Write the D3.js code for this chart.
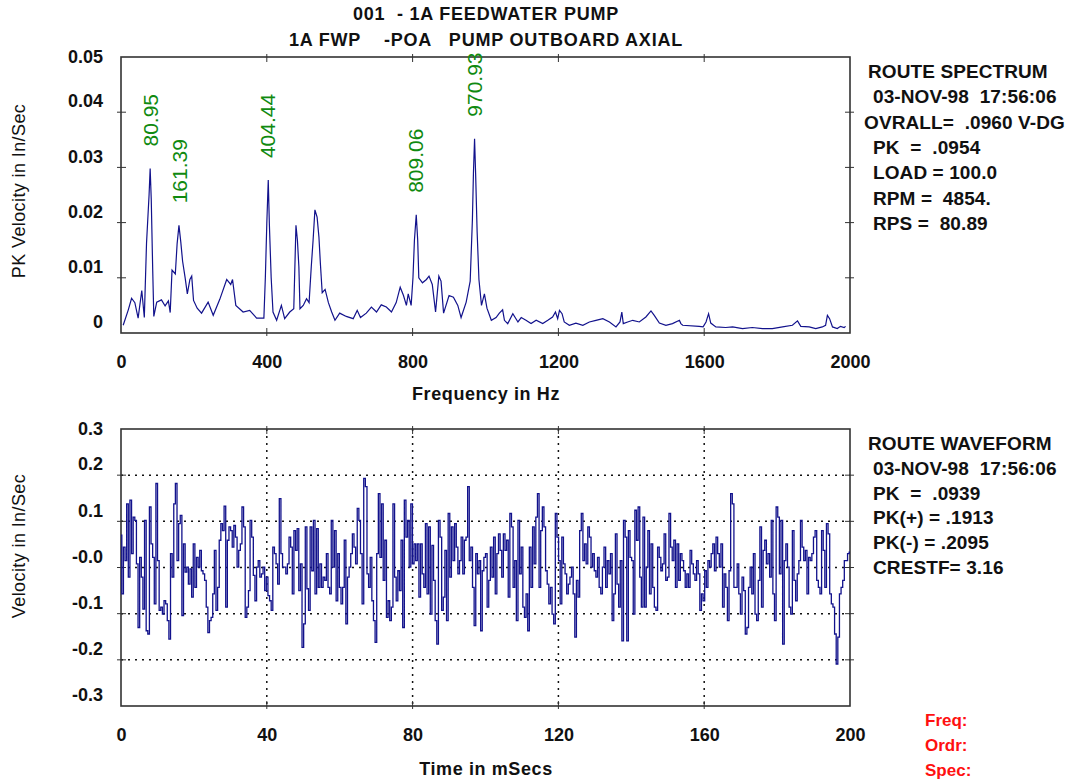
<!DOCTYPE html>
<html>
<head>
<meta charset="utf-8">
<script src="https://cdn.jsdelivr.net/npm/d3@7"></script>
<style>
    body { margin: 0; background: #fff; }
    svg text { font-family: "Liberation Sans", Arial, sans-serif; font-weight: bold; white-space: pre; fill: #111; }
</style>
</head>
<body>
<svg id="chart" width="1071" height="782"></svg>
<script>
// ---- data ----
var titleLines = ["001  - 1A FEEDWATER PUMP", "1A FWP    -POA   PUMP OUTBOARD AXIAL"];

// spectrum: frequency in Hz, amplitude in 0.001 In/Sec
var specFreq = [6,20,29,38,47,57,64,70,77,80,83,87,90,98,111,121,130,135,140,149,154,159,164,169,176,182,189,194,199,209,221,239,253,271,290,301,306,315,335,353,372,392,396,400,404,407,412,417,427,440,449,463,474,480,484,488,491,500,509,516,522,527,532,538,543,547,552,560,569,578,587,600,618,637,648,657,673,687,701,714,728,742,755,766,775,783,788,796,801,805,810,814,817,827,838,845,854,863,872,878,885,900,912,924,933,947,958,964,967,970,973,977,982,989,997,1004,1016,1029,1038,1047,1052,1061,1075,1089,1098,1111,1125,1139,1157,1171,1184,1192,1198,1203,1210,1216,1230,1248,1267,1285,1303,1322,1340,1358,1369,1374,1378,1390,1404,1422,1440,1454,1463,1477,1495,1513,1532,1536,1541,1586,1597,1605,1612,1618,1632,1659,1678,1705,1732,1760,1787,1815,1842,1856,1865,1888,1906,1924,1933,1938,1944,1952,1965,1974,1984,1988];
var specAmp = [1.4,4.2,6.3,5.5,2.7,7.7,2.8,16.2,25,29.8,24.2,11.4,3.0,5.6,6.0,4.9,5.8,3.7,11.4,10.7,16.2,19.5,16.5,13.0,10,7.1,9.7,10.3,5.9,4.5,3.6,5.6,3.2,6.1,9.7,8.8,9.7,5.0,3.8,4.1,2.7,2.7,10,19.8,27.7,19.8,10,3.8,2.3,5.0,2.6,3.8,4.4,19.5,16.8,12,4.4,5.0,6.2,5.5,12,16.8,22.3,21,17.4,12.6,7.3,7.9,5.5,3.8,2.3,3.6,3.0,2.6,4.1,2.8,3.6,4.7,3.8,5.1,4.7,3.8,5.5,8.3,6.8,5.0,7.1,5.0,10,16.8,21.4,16.8,10,9.1,9.7,10.3,8.8,3.8,10.3,9.4,3.6,6.8,6.5,5.0,2.8,5.6,9.4,20.4,29.2,35.2,28.6,18.4,9.7,5.0,7.1,4.5,2.3,2.8,3.6,4.2,2.3,1.7,3.5,2.0,2.8,2.3,1.7,2.3,1.7,2.3,2.9,3.8,2.6,4.1,3.5,2.0,1.4,1.8,1.4,2.0,2.3,2.6,2.0,1.1,2.0,3.8,1.7,2.0,2.3,2.0,2.9,4.0,3.2,1.8,1.4,1.7,2.3,1.7,1.4,1.2,1.1,2.0,3.5,1.8,1.1,1.0,1.1,0.8,1.0,0.8,0.8,1.1,1.4,2.2,1.2,1.1,0.8,1.1,1.4,3.2,2.6,1.1,0.8,1.2,1.0,1.2];

var peakLabels = ["80.95", "161.39", "404.44", "809.06", "970.93"];

var freqTicks = [0, 400, 800, 1200, 1600, 2000];
var ampTicks = [0.05, 0.04, 0.03, 0.02, 0.01, 0];
var ampTickLabels = ["0.05", "0.04", "0.03", "0.02", "0.01", "0"];

// waveform: samples over 200 ms, velocity in 0.001 In/Sec
var waveSamples = [70,-57,44,15,138,-21,146,30,109,102,8,-130,22,-21,-90,102,-137,-144,131,51,22,-79,182,15,-93,-86,-101,-72,-79,-115,-155,30,-21,138,182,15,95,113,-104,51,-10,1,-36,-3,-64,51,-43,22,1,37,-7,-14,-28,-86,-141,-115,-108,-57,37,-93,-43,59,95,80,133,-86,59,88,80,44,91,66,1,37,51,131,88,-108,-86,-50,102,66,-17,-72,1,15,-21,-14,1,-50,-21,-61,-72,-93,44,30,8,-36,149,30,1,1,-14,8,66,44,-57,80,37,84,-50,8,-173,-122,88,-46,-93,88,-7,102,-57,84,-43,8,-43,-21,-28,30,-43,-57,102,1,80,-72,30,-43,-79,-43,59,-122,-21,1,30,73,44,8,128,102,30,-79,193,175,-14,-43,22,-72,-115,-162,30,160,22,138,-28,59,-108,-72,-115,-86,138,-21,-72,-7,-50,59,-130,146,66,102,1,138,8,51,15,51,-64,51,-14,-43,95,-57,88,-101,48,-28,-115,-166,102,66,-93,-64,37,-115,117,-21,88,15,95,44,-14,15,66,-14,59,66,175,15,44,-43,-126,30,-14,15,-137,-7,22,
    30,-86,-28,44,-21,66,-57,30,73,37,-21,73,37,59,-64,117,88,-43,15,-115,102,-14,44,-86,-108,-57,-137,44,-43,88,8,109,160,-43,80,131,88,-7,-36,-79,-43,-101,-122,117,66,15,-79,66,8,-14,-57,-36,-21,1,-57,-151,-28,-64,80,117,15,51,8,88,66,1,30,-7,-21,22,-43,-57,1,44,-43,15,-14,30,-115,-57,73,-36,-86,15,-159,102,66,-159,80,22,15,-101,124,59,131,-21,-86,109,-86,1,80,-57,51,-43,-86,-93,44,22,-7,8,73,-28,-21,117,44,15,59,-43,51,-28,30,15,-7,-43,-14,-43,37,8,-14,-28,15,-14,-93,-57,-72,-7,-43,15,1,30,51,-7,66,30,1,51,-86,-14,-43,-115,-7,160,138,-43,-43,8,-57,-101,-21,-50,-144,-130,-43,1,-57,30,-101,-115,-28,88,-86,37,59,8,30,-21,102,-57,-115,131,109,-14,102,-166,15,51,1,-86,-101,80,-28,-72,-14,15,102,44,15,37,-57,22,15,30,66,80,-28,-43,-57,80,37,-43,95,73,-57,-79,-86,-144,-209,-151,-57,-43,-28,15,15,30,33];
var waveDuration = 200;

var timeTicks = [0, 40, 80, 120, 160, 200];
var velTicks = [0.3, 0.2, 0.1, 0, -0.1, -0.2, -0.3];
var velTickLabels = ["0.3", "0.2", "0.1", "-0.0", "-0.1", "-0.2", "-0.3"];

var specInfo = ["ROUTE SPECTRUM", "03-NOV-98  17:56:06", "OVRALL=  .0960 V-DG", "PK  =  .0954", "LOAD = 100.0", "RPM =  4854.", "RPS =  80.89"];
var waveInfo = ["ROUTE WAVEFORM", "03-NOV-98  17:56:06", "PK  =  .0939", "PK(+) = .1913", "PK(-) = .2095", "CRESTF= 3.16"];
var cursorInfo = ["Freq:", "Ordr:", "Spec:"];

// ---- layout ----
var svg = d3.select("#chart");
var left = 121, right = 850;
var spec = { top: 57, bottom: 333 };
var wave = { top: 429, bottom: 706 };

var x_freq = d3.scaleLinear().domain([0, 2000]).range([left, right]);
var y_amp = d3.scaleLinear().domain([0, 0.05]).range([spec.bottom, spec.top]);
var x_time = d3.scaleLinear().domain([0, waveDuration]).range([left, right]);
var y_vel = d3.scaleLinear().domain([-0.3, 0.3]).range([wave.bottom, wave.top]);

// titles
svg.selectAll("text.title")
    .data(titleLines)
    .join("text")
    .attr("class", "title")
    .attr("x", 486)
    .attr("y", function (d, i) { return 20 + i * 26; })
    .attr("text-anchor", "middle")
    .style("font-size", "18px")
    .style("letter-spacing", "0.8px")
    .text(function (d) { return d; });

// draws frame, cross ticks and labels for one panel
function drawFrame(xs, ys, xTicks, yTicks, yLabels, box, grid) {
    var g = svg.append("g");

    if (grid) {
        g.append("g").selectAll("line")
            .data(xTicks.slice(1, -1))
            .join("line")
            .attr("x1", xs).attr("x2", xs)
            .attr("y1", box.top).attr("y2", box.bottom)
            .attr("stroke", "#111").attr("stroke-width", 1.5)
            .attr("stroke-dasharray", "2,5");
        g.append("g").selectAll("line")
            .data(yTicks.slice(1, -1))
            .join("line")
            .attr("x1", left).attr("x2", right)
            .attr("y1", ys).attr("y2", ys)
            .attr("stroke", "#111").attr("stroke-width", 1.5)
            .attr("stroke-dasharray", "2,5");
    }

    // tick marks crossing each side
    var xt = xTicks.slice(1, -1), yt = yTicks.slice(1, -1);
    g.append("g").selectAll("line")
        .data(xt).join("line")
        .attr("x1", xs).attr("x2", xs)
        .attr("y1", box.bottom - 5).attr("y2", box.bottom + 3)
        .attr("stroke", "#333").attr("stroke-width", 1);
    g.append("g").selectAll("line")
        .data(xt).join("line")
        .attr("x1", xs).attr("x2", xs)
        .attr("y1", box.top - 3).attr("y2", box.top + 5)
        .attr("stroke", "#333").attr("stroke-width", 1);
    g.append("g").selectAll("line")
        .data(yt).join("line")
        .attr("x1", left - 4).attr("x2", left + 5)
        .attr("y1", ys).attr("y2", ys)
        .attr("stroke", "#333").attr("stroke-width", 1);
    g.append("g").selectAll("line")
        .data(yt).join("line")
        .attr("x1", right - 5).attr("x2", right + 4)
        .attr("y1", ys).attr("y2", ys)
        .attr("stroke", "#333").attr("stroke-width", 1);

    g.append("rect")
        .attr("x", left).attr("y", box.top)
        .attr("width", right - left).attr("height", box.bottom - box.top)
        .attr("fill", "none").attr("stroke", "#333").attr("stroke-width", 1.6);

    // x labels
    g.append("g")
        .attr("transform", "translate(0," + box.bottom + ")")
        .call(d3.axisBottom(xs).tickValues(xTicks).tickSize(0).tickPadding(22)
            .tickFormat(d3.format("d")))
        .call(function (a) { a.select(".domain").remove(); })
        .selectAll("text")
        .attr("fill", "#111")
        .style("font-size", "18px")
        .style("font-family", "'Liberation Sans', Arial, sans-serif");

    // y labels, drawn a little above their ticks like the original
    g.append("g")
        .attr("transform", "translate(" + left + ",0)")
        .call(d3.axisLeft(ys).tickValues(yTicks).tickSize(0).tickPadding(18)
            .tickFormat(function (d, i) { return yLabels[i]; }))
        .call(function (a) { a.select(".domain").remove(); })
        .selectAll("text")
        .attr("fill", "#111")
        .attr("y", function (d, i) { return i == 0 ? 0 : -11; })
        .style("font-size", "18px")
        .style("font-family", "'Liberation Sans', Arial, sans-serif");
    return g;
}

drawFrame(x_freq, y_amp, freqTicks, ampTicks, ampTickLabels, spec, false);
drawFrame(x_time, y_vel, timeTicks, velTicks, velTickLabels, wave, true);

// axis titles
svg.append("text").attr("x", 486).attr("y", 400).attr("text-anchor", "middle")
    .style("font-size", "18px").style("letter-spacing", "0.6px").text("Frequency in Hz");
svg.append("text").attr("x", 486).attr("y", 775).attr("text-anchor", "middle")
    .style("font-size", "18px").style("letter-spacing", "0.6px").text("Time in mSecs");
svg.append("text").attr("transform", "translate(25,191) rotate(-90)").attr("text-anchor", "middle")
    .style("font-size", "18px").style("font-weight", "normal").style("letter-spacing", "0.4px").text("PK Velocity in In/Sec");
svg.append("text").attr("transform", "translate(25,546) rotate(-90)").attr("text-anchor", "middle")
    .style("font-size", "18px").style("font-weight", "normal").style("letter-spacing", "0.4px").text("Velocity in In/Sec");

// spectrum trace
var specPoints = d3.zip(specFreq, specAmp);
svg.append("path")
    .datum(specPoints)
    .attr("fill", "none")
    .attr("stroke", "#12128c")
    .attr("stroke-width", 1.2)
    .attr("d", d3.line()
        .x(function (d) { return x_freq(d[0]); })
        .y(function (d) { return y_amp(d[1] / 1000); }));

// peak labels, rotated, sitting above each peak
svg.selectAll("text.peak")
    .data(peakLabels)
    .join("text")
    .attr("class", "peak")
    .attr("transform", function (d) {
        var f = +d;
        var near = specPoints.filter(function (p) { return Math.abs(p[0] - f) < 8; });
        var top = d3.max(near, function (p) { return p[1]; });
        return "translate(" + (x_freq(f) + 7) + "," + (y_amp(top / 1000) - 22) + ") rotate(-90)";
    })
    .style("font-size", "21px")
    .style("font-weight", "normal")
    .style("fill", "#108a10")
    .text(function (d) { return d; });

// waveform trace
var dt = waveDuration / (waveSamples.length - 1);
svg.append("path")
    .datum(waveSamples)
    .attr("fill", "none")
    .attr("stroke", "#12128c")
    .attr("stroke-width", 1.3)
    .attr("d", d3.line()
        .curve(d3.curveStep)
        .x(function (d, i) { return x_time(i * dt); })
        .y(function (d) { return y_vel(d / 1000); }));

// info panels
var specIndent = [868, 873, 864, 873, 873, 873, 873];
svg.selectAll("text.specinfo")
    .data(specInfo)
    .join("text")
    .attr("class", "specinfo")
    .attr("x", function (d, i) { return specIndent[i]; })
    .attr("y", function (d, i) { return 78 + i * 25.3; })
    .style("font-size", "19px")
    .style("letter-spacing", "0.1px")
    .text(function (d) { return d; });

svg.selectAll("text.waveinfo")
    .data(waveInfo)
    .join("text")
    .attr("class", "waveinfo")
    .attr("x", function (d, i) { return i == 0 ? 868 : 873; })
    .attr("y", function (d, i) { return 450 + i * 24.8; })
    .style("font-size", "19px")
    .style("letter-spacing", "0.1px")
    .text(function (d) { return d; });

svg.selectAll("text.cursor")
    .data(cursorInfo)
    .join("text")
    .attr("class", "cursor")
    .attr("x", 925)
    .attr("y", function (d, i) { return 726 + i * 25; })
    .style("font-size", "17px")
    .style("fill", "#ff1010")
    .text(function (d) { return d; });
</script>
</body>
</html>
